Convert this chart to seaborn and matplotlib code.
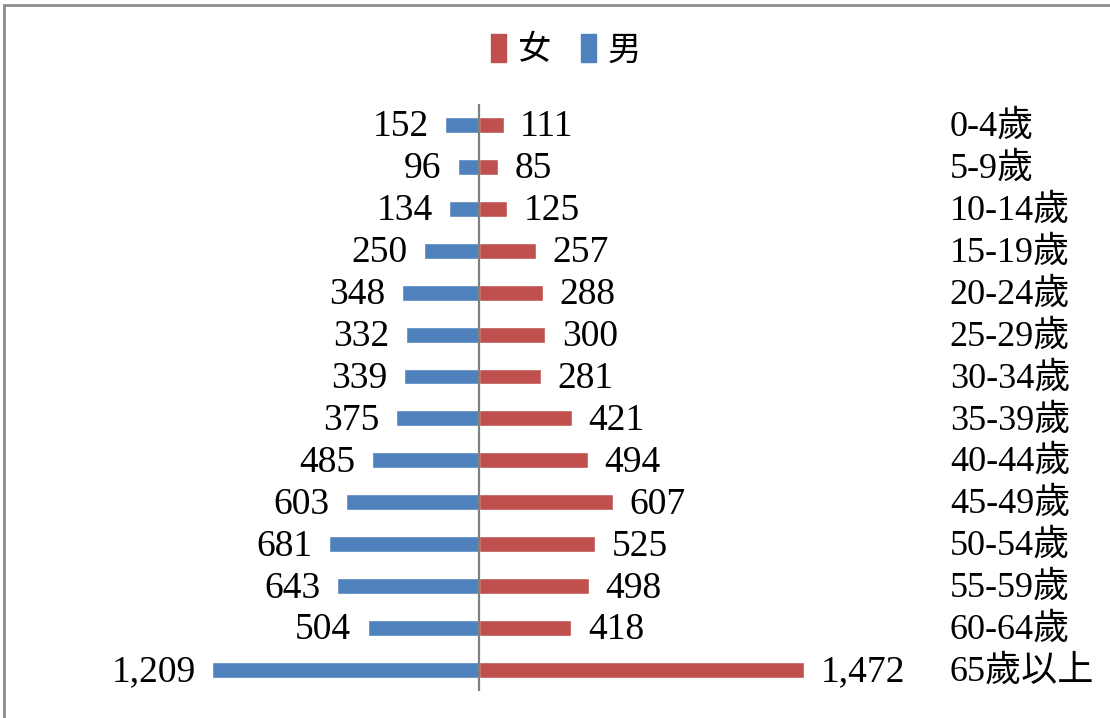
import matplotlib
matplotlib.use("Agg")
import matplotlib.pyplot as plt
import seaborn as sns
import pandas as pd
from matplotlib.patches import Patch, Rectangle
from matplotlib.transforms import blended_transform_factory

# data
ages = ['0-4歲', '5-9歲', '10-14歲', '15-19歲', '20-24歲', '25-29歲', '30-34歲',
        '35-39歲', '40-44歲', '45-49歲', '50-54歲', '55-59歲', '60-64歲', '65歲以上']
male = [152, 96, 134, 250, 348, 332, 339, 375, 485, 603, 681, 643, 504, 1209]
female = [111, 85, 125, 257, 288, 300, 281, 421, 494, 607, 525, 498, 418, 1472]

blue = '#4F81BD'
red = '#C0504D'
fonts = ['Liberation Serif', 'Noto Sans CJK TC', 'DejaVu Sans']

sns.set_style('white')
plt.rcParams['font.family'] = fonts
plt.rcParams['text.color'] = 'black'

df = pd.DataFrame({'age': ages, 'male': [-m for m in male], 'female': female})

fig = plt.figure(figsize=(11.1, 7.18), dpi=100)
ax = fig.add_axes([0.0739, 0.0376, 0.7153, 0.8176])

sns.barplot(data=df, x='male', y='age', color=blue, width=0.38, orient='h',
            saturation=1, ax=ax)
sns.barplot(data=df, x='female', y='age', color=red, width=0.38, orient='h',
            saturation=1, ax=ax)

ax.set_xlim(-1800, 1800)
ax.set_ylim(len(ages) - 0.5, -0.5)
ax.axvline(0, color='#808080', lw=1.6)
for s in ax.spines.values():
    s.set_visible(False)
ax.set_xticks([])
ax.set_yticks([])
ax.set_xlabel('')
ax.set_ylabel('')

# value labels
for i, (m, f) in enumerate(zip(male, female)):
    ax.annotate(f'{m:,}', (-m, i), xytext=(-12, -1.5), textcoords='offset points',
                ha='right', va='center', fontsize=27, color='black')
    ax.annotate(f'{f:,}', (f, i), xytext=(12, -1.5), textcoords='offset points',
                ha='left', va='center', fontsize=27, color='black')

# age group labels in a column on the right
tr = blended_transform_factory(ax.transAxes, ax.transData)
for i, a in enumerate(ages):
    ax.annotate(a, (1.093, i), xycoords=tr, xytext=(0, -1.5), textcoords='offset points',
                ha='left', va='center', fontsize=26, color='black')

handles = [Patch(color=red, label='女'), Patch(color=blue, label='男')]
leg = fig.legend(handles=handles, loc='center', bbox_to_anchor=(0.51, 0.93), ncol=2,
                 frameon=False, handlelength=0.45, handleheight=0.9,
                 handletextpad=0.35, columnspacing=0.9, prop={'family': fonts, 'size': 24})
for t in leg.get_texts():
    t.set_color('black')

# chart frame (only top and left edges visible)
fig.add_artist(Rectangle((4 / 1110, -0.05), 1.1, 1.05 - 5 / 718, transform=fig.transFigure,
                         fill=False, edgecolor='#8c8c8c', lw=2))

fig.savefig('out.png', dpi=100)
